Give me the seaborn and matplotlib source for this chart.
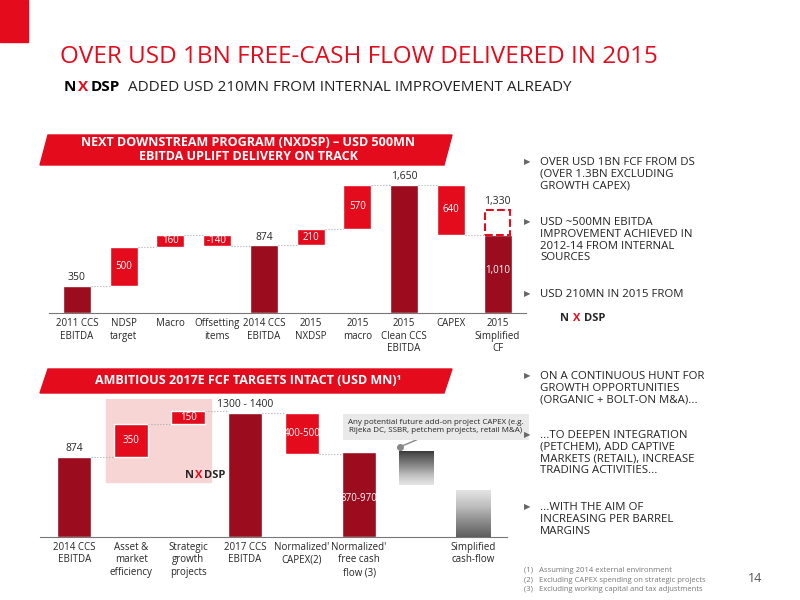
import matplotlib
matplotlib.use("Agg")
import matplotlib.pyplot as plt
import seaborn as sns
import numpy as np
from matplotlib.patches import Polygon, Rectangle

sns.set_style("white")
plt.rcParams['font.family'] = ['Open Sans', 'DejaVu Sans']

DARK = "#9b0c1f"
RED = "#e30b1c"

# top waterfall
top_cats = ["2011 CCS\nEBITDA", "NDSP\ntarget", "Macro", "Offsetting\nitems", "2014 CCS\nEBITDA",
            "2015\nNXDSP", "2015\nmacro", "2015\nClean CCS\nEBITDA", "CAPEX", "2015\nSimplified\nCF"]
top_vals = [350, 500, 160, -140, 874, 210, 570, 1650, -640, 1010]
top_labels = ["350", "500", "160", "-140", "874", "210", "570", "1,650", "640", "1,010"]
top_kind = ["total", "delta", "delta", "delta", "total", "delta", "delta", "total", "delta", "total"]
top_inside = [False, True, True, True, False, True, True, False, True, True]

# bottom waterfall
bot_cats = ["2014 CCS\nEBITDA", "Asset &\nmarket\nefficiency", "Strategic\ngrowth\nprojects", "2017 CCS\nEBITDA",
            "Normalized'\nCAPEX(2)", "Normalized'\nfree cash\nflow (3)", "", "Simplified\ncash-flow"]
bot_vals = [874, 350, 150, 1350, -450, 920]
bot_labels = ["874", "350", "150", "1300 - 1400", "400-500", "870-970"]
bot_kind = ["total", "delta", "delta", "total", "delta", "total"]
bot_inside = [False, True, True, False, True, True]

fig = plt.figure(figsize=(8, 6), dpi=100)

# title
fig.text(0.075, 0.895, "OVER USD 1BN FREE-CASH FLOW DELIVERED IN 2015", color=RED, fontsize=17.5)
fig.text(0.08, 0.848, "N", color="black", fontsize=11, fontweight="bold")
fig.text(0.097, 0.848, "X", color=RED, fontsize=11, fontweight="bold")
fig.text(0.113, 0.848, "DSP", color="black", fontsize=11, fontweight="bold")
fig.text(0.16, 0.848, "ADDED USD 210MN FROM INTERNAL IMPROVEMENT ALREADY", color="#222222", fontsize=11)
fig.patches.append(Rectangle((0.0, 0.93), 0.035, 0.07, transform=fig.transFigure, color=RED, figure=fig))

def banner(y0, y1, text):
    p = Polygon([[0.05, y0], [0.555, y0], [0.565, y1], [0.06, y1]], closed=True,
                transform=fig.transFigure, color=RED, figure=fig)
    fig.patches.append(p)
    fig.text(0.31, (y0 + y1) / 2, text, color="white", fontsize=9, fontweight="bold",
             ha="center", va="center", linespacing=1.1)

banner(0.725, 0.775, "NEXT DOWNSTREAM PROGRAM (NXDSP) – USD 500MN\nEBITDA UPLIFT DELIVERY ON TRACK")
banner(0.345, 0.385, "AMBITIOUS 2017E FCF TARGETS INTACT (USD MN)¹")

def waterfall(ax, vals, labels, kinds, inside, ymax, inside_frac):
    run = 0
    prev_top = None
    for i, (v, lab, k, ins) in enumerate(zip(vals, labels, kinds, inside)):
        if k == "total":
            b, h, c = 0, v, DARK
            run = v
        else:
            if v >= 0:
                b, h = run, v
            else:
                b, h = run + v, -v
            run += v
            c = RED
        ax.bar(i, h, bottom=b, width=0.6, color=c)
        if not ins:
            ax.text(i, h + ymax * 0.02, lab, ha="center", va="bottom", fontsize=7.5)
        elif k == "total":
            ax.text(i, h * inside_frac, lab, ha="center", va="center", fontsize=7, color="white")
        else:
            ax.text(i, b + h / 2, lab, ha="center", va="center", fontsize=7, color="white")
        if i > 0:
            ax.plot([i - 1 + 0.3, i - 0.3], [prev_top, prev_top], ls=":", color="#aaaaaa", lw=0.8)
        prev_top = run
    ax.set_ylim(0, ymax)
    ax.set_yticks([])
    for s in ["top", "right", "left"]:
        ax.spines[s].set_visible(False)
    ax.spines["bottom"].set_color("#777777")
    ax.tick_params(axis="x", length=0, labelsize=7)

ax1 = fig.add_axes([0.061, 0.478, 0.596, 0.233])
waterfall(ax1, top_vals, top_labels, top_kind, top_inside, 1800, 0.55)
ax1.text(9, 1330 + 40, "1,330", ha="center", va="bottom", fontsize=7.5)
ax1.add_patch(Rectangle((9 - 0.27, 1010), 0.54, 320, fill=False, ls="--", ec=RED, lw=1.5))
ax1.set_xticks(range(len(top_cats)))
ax1.set_xticklabels(top_cats)
ax1.set_xlim(-0.6, 9.6)

ax2 = fig.add_axes([0.05, 0.105, 0.584, 0.23])
ax2.add_patch(Rectangle((0.55, 600), 1.85, 900, color="#f7d5d5", zorder=0))
waterfall(ax2, bot_vals, bot_labels, bot_kind, bot_inside, 1500, 0.45)
ax2.text(1.95, 640, "N", fontsize=8, fontweight="bold")
ax2.text(2.12, 640, "X", fontsize=8, fontweight="bold", color=RED)
ax2.text(2.28, 640, "DSP", fontsize=8, fontweight="bold")
grad = np.linspace(0, 1, 50).reshape(-1, 1)
ax2.imshow(grad, extent=(5.7, 6.3, 560, 920), cmap="Greys", vmin=-0.3, vmax=1.3, aspect="auto",
           origin="lower", zorder=2)
ax2.imshow(grad, extent=(6.7, 7.3, 0, 510), cmap="Greys_r", vmin=-0.6, vmax=1.4, aspect="auto",
           origin="lower", zorder=2)
ax2.text(6.35, 1200, "Any potential future add-on project CAPEX (e.g.\nRijeka DC, SSBR, petchem projects, retail M&A)",
         ha="center", va="center", fontsize=5.8, bbox=dict(fc="#e9e9e9", ec="none", pad=4), zorder=5)
ax2.plot([5.72, 6.1], [980, 1080], color="#888888", lw=1)
ax2.plot([5.72], [980], "o", color="#888888", ms=4)
ax2.set_xticks(range(len(bot_cats)))
ax2.set_xticklabels(bot_cats)
ax2.set_xlim(-0.6, 7.6)
ax2.set_ylim(0, 1500)

# right bullets
bullets = [
    (0.735, "OVER USD 1BN FCF FROM DS\n(OVER 1.3BN EXCLUDING\nGROWTH CAPEX)"),
    (0.635, "USD ~500MN EBITDA\nIMPROVEMENT ACHIEVED IN\n2012-14 FROM INTERNAL\nSOURCES"),
    (0.515, "USD 210MN IN 2015 FROM"),
    (0.378, "ON A CONTINUOUS HUNT FOR\nGROWTH OPPORTUNITIES\n(ORGANIC + BOLT-ON M&A)..."),
    (0.28, "...TO DEEPEN INTEGRATION\n(PETCHEM), ADD CAPTIVE\nMARKETS (RETAIL), INCREASE\nTRADING ACTIVITIES..."),
    (0.16, "...WITH THE AIM OF\nINCREASING PER BARREL\nMARGINS"),
]
for y, t in bullets:
    fig.text(0.655, y, "▶", fontsize=6, color="#666666", va="top")
    fig.text(0.675, y + 0.004, t, fontsize=8.2, color="#222222", va="top", linespacing=1.12)
fig.text(0.70, 0.465, "N", fontsize=8, fontweight="bold")
fig.text(0.716, 0.465, "X", fontsize=8, fontweight="bold", color=RED)
fig.text(0.73, 0.465, "DSP", fontsize=8, fontweight="bold")

fig.text(0.655, 0.033, "(1)   Assuming 2014 external environment\n(2)   Excluding CAPEX spending on strategic projects\n(3)   Excluding working capital and tax adjustments",
         fontsize=5.5, color="#777777", va="center", linespacing=1.5)
fig.text(0.935, 0.03, "14", fontsize=9, color="#555555")

fig.savefig("out.png", dpi=100)
